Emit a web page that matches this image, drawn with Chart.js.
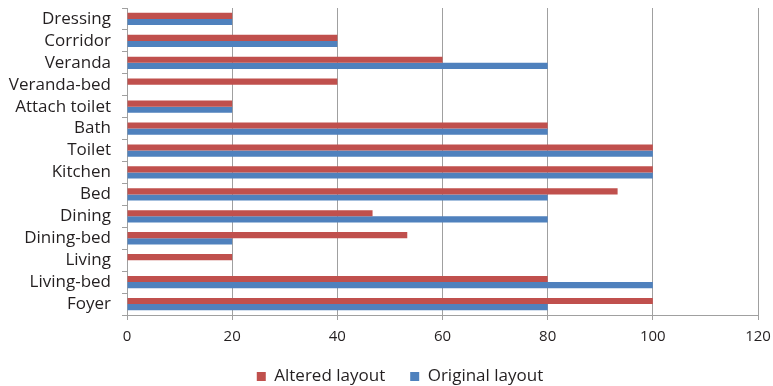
<!DOCTYPE html>
<html>
<head>
<meta charset="utf-8">
<script src="https://cdn.jsdelivr.net/npm/chart.js@4.4.0/dist/chart.umd.min.js"></script>
<style>
  html, body { margin: 0; padding: 0; background: #fff; }
  #wrap { width: 773px; height: 386px; }
</style>
</head>
<body>
<div id="wrap"><canvas id="myChart" width="773" height="386"></canvas></div>
<script>
// categories, top to bottom
var rooms = ["Dressing", "Corridor", "Veranda", "Veranda-bed", "Attach toilet", "Bath", "Toilet",
             "Kitchen", "Bed", "Dining", "Dining-bed", "Living", "Living-bed", "Foyer"];
var alteredVals  = [20, 40, 60, 40, 20, 80, 100, 100, 93.3, 46.7, 53.3, 20, 80, 100];
var originalVals = [20, 40, 80, 0, 20, 80, 100, 100, 80, 80, 20, 0, 100, 80];
var xTicks = [0, 20, 40, 60, 80, 100, 120];

var fontFam = "'Open Sans', sans-serif";

// legend sits a bit right of centre in the original
var legendShift = {
  id: "legendShift",
  afterLayout: function (chart) {
    chart.legend.left += 21;
    chart.legend.right += 21;
  }
};

var myChart = new Chart(document.getElementById("myChart"), {
  type: "bar",
  data: {
    labels: rooms,
    datasets: [
      {
        label: "Altered layout",
        data: alteredVals,
        backgroundColor: "#C0504D",
        borderWidth: 0,
        categoryPercentage: 0.56,
        barPercentage: 1.0
      },
      {
        label: "Original layout",
        data: originalVals,
        backgroundColor: "#4F81BD",
        borderWidth: 0,
        categoryPercentage: 0.56,
        barPercentage: 1.0
      }
    ]
  },
  options: {
    indexAxis: "y",
    responsive: false,
    animation: false,
    layout: { padding: { top: 8, left: 0, right: 15, bottom: -9 } },
    plugins: {
      tooltip: { enabled: false },
      legend: {
        position: "bottom",
        labels: {
          boxWidth: 9,
          boxHeight: 9,
          padding: 25,
          color: "#231f20",
          font: { family: fontFam, size: 17 }
        }
      }
    },
    scales: {
      x: {
        min: 0,
        max: 120,
        afterBuildTicks: function (scale) {
          scale.ticks = xTicks.map(function (v) { return { value: v }; });
        },
        afterFit: function (scale) {
          scale.height = 28;
          scale.paddingLeft = 0;
          scale.paddingRight = 0;
        },
        grid: { color: "#a0a0a0", lineWidth: 1, tickLength: 5, drawTicks: true },
        border: { color: "#a0a0a0" },
        ticks: { color: "#231f20", padding: 8, font: { family: fontFam, size: 15 } }
      },
      y: {
        afterFit: function (scale) {
          scale.width = 127;
          scale.paddingTop = 0;
          scale.paddingBottom = 0;
        },
        grid: { drawOnChartArea: false, tickLength: 5, color: "#a0a0a0" },
        border: { color: "#a0a0a0" },
        ticks: { color: "#231f20", padding: 11, autoSkip: false, font: { family: fontFam, size: 17 } }
      }
    }
  },
  plugins: [legendShift]
});
</script>
</body>
</html>
